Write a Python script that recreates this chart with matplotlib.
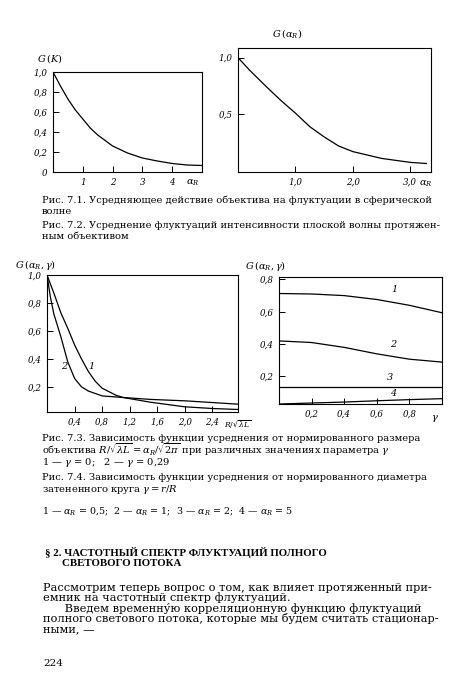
import matplotlib
matplotlib.use('Agg')
import matplotlib.pyplot as plt

plt.rcParams['font.family'] = ['DejaVu Serif']
plt.rcParams['mathtext.fontset'] = 'dejavuserif'

# Fig 7.1: G(K) vs alpha_R
a71 = [0, 0.25, 0.5, 0.75, 1.0, 1.25, 1.5, 2.0, 2.5, 3.0, 3.5, 4.0, 4.5, 5.0]
g71 = [1.0, 0.86, 0.73, 0.62, 0.53, 0.44, 0.37, 0.26, 0.19, 0.14, 0.11, 0.085, 0.07, 0.065]

# Fig 7.2: G(alpha_R)
a72 = [0, 0.2, 0.5, 0.75, 1.0, 1.25, 1.5, 1.75, 2.0, 2.5, 3.0, 3.28]
g72 = [1.0, 0.89, 0.74, 0.62, 0.51, 0.39, 0.30, 0.22, 0.17, 0.11, 0.075, 0.065]

# Fig 7.3: G(alpha_R, gamma) vs R/sqrt(lambda L); 1 - gamma=0, 2 - gamma=0.29
r73_1 = [0, 0.1, 0.2, 0.3, 0.4, 0.5, 0.6, 0.7, 0.8, 1.0, 1.1, 1.5, 2.0, 2.4, 2.77]
g73_1 = [1.0, 0.87, 0.73, 0.62, 0.50, 0.40, 0.31, 0.24, 0.19, 0.14, 0.124, 0.09, 0.057, 0.045, 0.038]
r73_2 = [0, 0.05, 0.1, 0.2, 0.3, 0.4, 0.5, 0.6, 0.8, 1.1, 1.5, 2.0, 2.77]
g73_2 = [1.0, 0.84, 0.72, 0.56, 0.38, 0.26, 0.20, 0.17, 0.135, 0.124, 0.11, 0.10, 0.076]

# Fig 7.4: G(alpha_R, gamma) vs gamma for alpha_R = 0.5, 1, 2, 5
gam = [0, 0.2, 0.4, 0.6, 0.8, 1.0]
g74_1 = [0.713, 0.71, 0.70, 0.676, 0.64, 0.594]
g74_2 = [0.42, 0.41, 0.38, 0.34, 0.307, 0.289]
g74_3 = [0.135, 0.135, 0.135, 0.135, 0.135, 0.135]
g74_4 = [0.03, 0.036, 0.042, 0.05, 0.057, 0.063]

cap73_lines = [
    'Рис. 7.3. Зависимость функции усреднения от нормированного размера',
    r'объектива $R/\sqrt{\lambda L} = \alpha_R/\sqrt{2\pi}$ при различных значениях параметра $\gamma$',
    r'1 — $\gamma$ = 0;   2 — $\gamma$ = 0,29',
]

body_lines = [
    'Рассмотрим теперь вопрос о том, как влияет протяженный при-',
    'емник на частотный спектр флуктуаций.',
    '      Введем временну́ю корреляционную функцию флуктуаций',
    'полного светового потока, которые мы будем считать стационар-',
    'ными, —',
]

W, H = 450, 692
fig = plt.figure(figsize=(4.5, 6.92), dpi=100)
fig.patch.set_facecolor('white')


def box(l, t, r, b):
    ax = fig.add_axes([l / W, 1 - b / H, (r - l) / W, (b - t) / H])
    ax.tick_params(direction='in', length=4, width=0.7, labelsize=6.3, pad=4)
    for s in ax.spines.values():
        s.set_linewidth(0.8)
    return ax


def ftext(x, y, s, va='center', **kw):
    fig.text(x / W, 1 - y / H, s, va=va, **kw)


def ticks(ax, xt, xl, yt, yl):
    ax.set_xticks(xt)
    ax.set_xticklabels(xl, style='italic')
    ax.set_yticks(yt)
    ax.set_yticklabels(yl, style='italic')


# --- Fig 7.1
ax1 = box(53, 72, 202, 172)
ax1.plot(a71, g71, color='black', lw=0.9)
ax1.set_xlim(0, 5)
ax1.set_ylim(0, 1.0)
ticks(ax1, [1, 2, 3, 4], ['1', '2', '3', '4'],
      [0, 0.2, 0.4, 0.6, 0.8, 1.0], ['0', '0,2', '0,4', '0,6', '0,8', '1,0'])
ax1.text(4.45, -0.06, r'$\alpha_R$', fontsize=7, ha='left', va='top')
ftext(37, 59, r'$G\,(K)$', fontsize=7)

# --- Fig 7.2
ax2 = box(238, 48, 431, 172)
ax2.plot(a72, g72, color='black', lw=0.9)
ax2.set_xlim(0, 3.36)
ax2.set_ylim(-0.01, 1.085)
ticks(ax2, [1, 2, 3], ['1,0', '2,0', '3,0'], [0.5, 1.0], ['0,5', '1,0'])
ax2.text(3.15, -0.07, r'$\alpha_R$', fontsize=7, ha='left', va='top')
ftext(272, 33, r'$G\,(\alpha_R)$', fontsize=7)

# --- Fig 7.3
ax3 = box(47, 275, 238, 412)
ax3.plot(r73_1, g73_1, color='black', lw=0.9)
ax3.plot(r73_2, g73_2, color='black', lw=0.9)
ax3.set_xlim(0, 2.77)
ax3.set_ylim(0.02, 1.0)
ticks(ax3, [0.4, 0.8, 1.2, 1.6, 2.0, 2.4], ['0,4', '0,8', '1,2', '1,6', '2,0', '2,4'],
      [0.2, 0.4, 0.6, 0.8, 1.0], ['0,2', '0,4', '0,6', '0,8', '1,0'])
ax3.text(0.60, 0.33, '1', fontsize=7, style='italic')
ax3.text(0.20, 0.33, '2', fontsize=7, style='italic')
ax3.text(2.57, -0.03, r'$R/\sqrt{\lambda L}$', fontsize=5.5, ha='left', va='top')
ftext(15, 265, r'$G\,(\alpha_R,\gamma)$', fontsize=7)

# --- Fig 7.4
ax4 = box(279, 277, 442, 404)
for g in (g74_1, g74_2, g74_3, g74_4):
    ax4.plot(gam, g, color='black', lw=0.9)
ax4.set_xlim(0, 1.0)
ax4.set_ylim(0.03, 0.815)
ticks(ax4, [0.2, 0.4, 0.6, 0.8], ['0,2', '0,4', '0,6', '0,8'],
      [0.2, 0.4, 0.6, 0.8], ['0,2', '0,4', '0,6', '0,8'])
for lab, xx, yy in (('1', 0.69, 0.72), ('2', 0.68, 0.38), ('3', 0.66, 0.18), ('4', 0.68, 0.08)):
    ax4.text(xx, yy, lab, fontsize=7, style='italic')
ax4.text(0.93, -0.025, r'$\gamma$', fontsize=7, ha='left', va='top')
ftext(245, 266, r'$G\,(\alpha_R,\gamma)$', fontsize=7)

# --- captions
cap = dict(fontsize=7.1)
ftext(42, 200, 'Рис. 7.1. Усредняющее действие объектива на флуктуации в сферической', **cap)
ftext(42, 212, 'волне', **cap)
ftext(42, 226, 'Рис. 7.2. Усреднение флуктуаций интенсивности плоской волны протяжен-', **cap)
ftext(42, 237, 'ным объективом', **cap)
ftext(42, 434, '\n'.join(cap73_lines), va='top', linespacing=0.85, **cap)
ftext(42, 478, 'Рис. 7.4. Зависимость функции усреднения от нормированного диаметра', **cap)
ftext(42, 489, r'затененного круга $\gamma = r/R$', **cap)
ftext(42, 512, r'1 — $\alpha_R$ = 0,5;  2 — $\alpha_R$ = 1;  3 — $\alpha_R$ = 2;  4 — $\alpha_R$ = 5', fontsize=6.8)

head = dict(fontsize=7.8, weight='bold', family='Liberation Serif')
ftext(45, 552, '§ 2. ЧАСТОТНЫЙ СПЕКТР ФЛУКТУАЦИЙ ПОЛНОГО', **head)
ftext(62, 563, 'СВЕТОВОГО ПОТОКА', **head)

ftext(43, 583, '\n'.join(body_lines), va='top', fontsize=8.2, linespacing=0.95)
ftext(43, 663, '224', fontsize=7.5)

fig.savefig('out.png', dpi=100, facecolor='white')
